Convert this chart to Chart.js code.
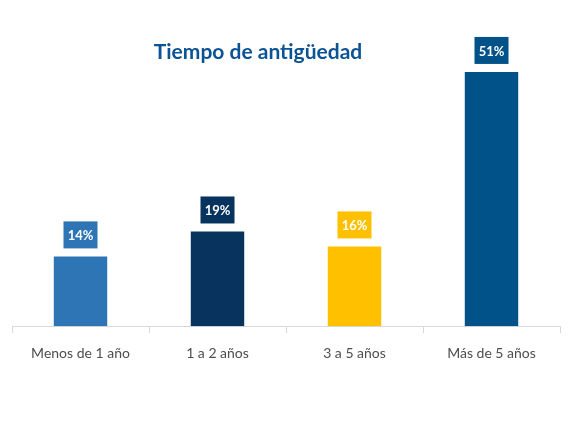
<!DOCTYPE html>
<html>
<head>
<meta charset="utf-8">
<script src="https://cdn.jsdelivr.net/npm/chart.js@4"></script>
<style>
  html, body { margin: 0; padding: 0; background: #fff; }
  #wrap { width: 578px; height: 434px; position: relative; }
</style>
</head>
<body>
<div id="wrap"><canvas id="myChart" width="578" height="434"></canvas></div>
<script>
// datos
var categorias = ['Menos de 1 año', '1 a 2 años', '3 a 5 años', 'Más de 5 años'];
var valores = [14, 19, 16, 51];
var colores = ['#2E75B6', '#08335E', '#FFC000', '#005288'];
var titulo = 'Tiempo de antigüedad';

// etiquetas con recuadro de color encima de cada barra
var etiquetas = {
  id: 'etiquetas',
  afterDatasetsDraw: function(chart) {
    var c = chart.ctx;
    var meta = chart.getDatasetMeta(0);
    c.save();
    c.font = 'bold 13px Lato';
    c.textAlign = 'center';
    c.textBaseline = 'middle';
    meta.data.forEach(function(bar, i) {
      var txt = valores[i] + '%';
      var w = 34, h = 27;
      var x = bar.x, y = bar.y - 8 - h / 2;
      c.fillStyle = colores[i];
      c.fillRect(x - w / 2, y - h / 2, w, h);
      c.fillStyle = '#fff';
      c.fillText(txt, x, y + 1);
    });
    c.restore();
  }
};

var tituloPlugin = {
  id: 'tituloPlugin',
  afterDraw: function(chart) {
    var c = chart.ctx;
    c.save();
    c.font = 'bold 21px Lato';
    c.fillStyle = '#0B5394';
    c.textAlign = 'center';
    c.textBaseline = 'middle';
    c.fillText(titulo, 258, 52);
    c.restore();
  }
};

var ctx = document.getElementById('myChart');
let myChart = new Chart(ctx, {
  type: 'bar',
  data: {
    labels: categorias,
    datasets: [{
      data: valores,
      backgroundColor: colores,
      barPercentage: 0.39,
      categoryPercentage: 1
    }]
  },
  options: {
    responsive: false,
    animation: false,
    layout: { padding: { left: 12, right: 18, top: 47, bottom: 60 } },
    plugins: { legend: { display: false }, tooltip: { enabled: false } },
    scales: {
      x: {
        grid: { drawOnChartArea: false, drawTicks: true, tickLength: 7, color: '#D9D9D9' },
        border: { color: '#D9D9D9' },
        ticks: { color: '#4D4D4D', font: { family: 'Lato', size: 14 }, padding: 12 }
      },
      y: {
        display: false,
        min: 0,
        max: 56
      }
    }
  },
  plugins: [etiquetas, tituloPlugin]
});
</script>
</body>
</html>
